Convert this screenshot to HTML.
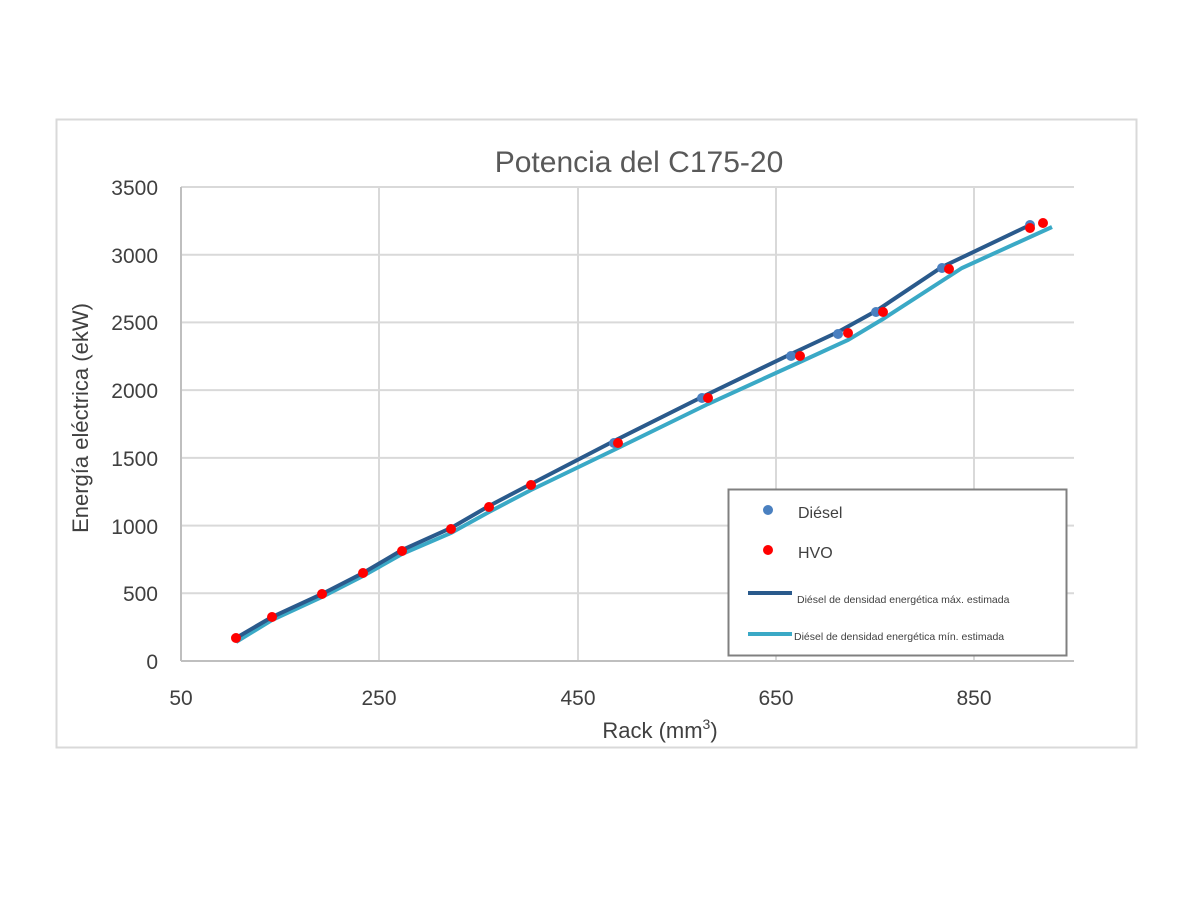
<!DOCTYPE html>
<html><head><meta charset="utf-8"><style>body{margin:0;background:#fff}</style></head><body>
<svg width="1200" height="900" xmlns="http://www.w3.org/2000/svg" font-family="Liberation Sans, sans-serif">
<rect x="0" y="0" width="1200" height="900" fill="#fff"/>
<rect x="56.5" y="119.5" width="1080" height="628" fill="#fff" stroke="#d9d9d9" stroke-width="2"/>
<g stroke="#d9d9d9" stroke-width="2">
<line x1="181" y1="187" x2="1074" y2="187"/><line x1="181" y1="254.7" x2="1074" y2="254.7"/>
<line x1="181" y1="322.4" x2="1074" y2="322.4"/><line x1="181" y1="390.1" x2="1074" y2="390.1"/>
<line x1="181" y1="457.9" x2="1074" y2="457.9"/><line x1="181" y1="525.6" x2="1074" y2="525.6"/>
<line x1="181" y1="593.3" x2="1074" y2="593.3"/>
<line x1="379" y1="187" x2="379" y2="661"/><line x1="578" y1="187" x2="578" y2="661"/>
<line x1="776" y1="187" x2="776" y2="661"/><line x1="974" y1="187" x2="974" y2="661"/>
</g>
<g stroke="#bfbfbf" stroke-width="2"><line x1="181" y1="187" x2="181" y2="661"/><line x1="181" y1="661" x2="1074" y2="661"/></g>
<text x="639" y="172" font-size="30" fill="#595959" text-anchor="middle">Potencia del C175-20</text>
<g font-size="21" fill="#404040" text-anchor="end">
<text x="158" y="195">3500</text><text x="158" y="263">3000</text><text x="158" y="330">2500</text>
<text x="158" y="398">2000</text><text x="158" y="466">1500</text><text x="158" y="534">1000</text>
<text x="158" y="601">500</text><text x="158" y="669">0</text></g>
<g font-size="21" fill="#404040" text-anchor="middle">
<text x="181" y="705">50</text><text x="379" y="705">250</text><text x="578" y="705">450</text>
<text x="776" y="705">650</text><text x="974" y="705">850</text></g>
<text x="660" y="738" font-size="22" fill="#404040" text-anchor="middle">Rack (mm<tspan font-size="14" dy="-9">3</tspan><tspan dy="9">)</tspan></text>
<text transform="translate(88,418) rotate(-90)" font-size="22" fill="#404040" text-anchor="middle">Energía eléctrica (ekW)</text>
<polyline fill="none" stroke="#3aa9c6" stroke-width="4" points="236,642 272,620 322,597 363,576 402,554 451,533 489,512 531,490 618,448 708,404 800,362 848,340 883,319 962,268 1052,227"/>
<polyline fill="none" stroke="#2a5a8c" stroke-width="4" points="236,638 272,617 322,594 363,573 402,550 451,528 489,506 531,484 614,441 702,397 791,354 838,332 876,311 942,267 1030,225"/>
<g fill="#4a80c0"><circle cx="614" cy="443" r="5"/><circle cx="702" cy="398" r="5"/><circle cx="791" cy="356" r="5"/><circle cx="838" cy="334" r="5"/><circle cx="876" cy="312" r="5"/><circle cx="942" cy="268" r="5"/><circle cx="1030" cy="225" r="5"/></g>
<g fill="#ff0000"><circle cx="236" cy="638" r="5"/><circle cx="272" cy="617" r="5"/><circle cx="322" cy="594" r="5"/><circle cx="363" cy="573" r="5"/><circle cx="402" cy="551" r="5"/><circle cx="451" cy="529" r="5"/><circle cx="489" cy="507" r="5"/><circle cx="531" cy="485" r="5"/><circle cx="618" cy="443" r="5"/><circle cx="708" cy="398" r="5"/><circle cx="800" cy="356" r="5"/><circle cx="848" cy="333" r="5"/><circle cx="883" cy="312" r="5"/><circle cx="949" cy="269" r="5"/><circle cx="1030" cy="228" r="5"/><circle cx="1043" cy="223" r="5"/></g>
<rect x="728.5" y="489.5" width="338" height="166" fill="#fff" stroke="#808080" stroke-width="2"/>
<circle cx="768" cy="510" r="5" fill="#4a80c0"/><text x="798" y="518" font-size="16" fill="#404040">Diésel</text>
<circle cx="768" cy="550" r="5" fill="#ff0000"/><text x="798" y="558" font-size="16" fill="#404040">HVO</text>
<line x1="748" y1="593" x2="792" y2="593" stroke="#2a5a8c" stroke-width="4"/><text x="797" y="603" font-size="10.5" fill="#404040">Diésel de densidad energética máx. estimada</text>
<line x1="748" y1="634" x2="792" y2="634" stroke="#3aa9c6" stroke-width="4"/><text x="794" y="640" font-size="10.5" fill="#404040">Diésel de densidad energética mín. estimada</text>
</svg>
</body></html>
